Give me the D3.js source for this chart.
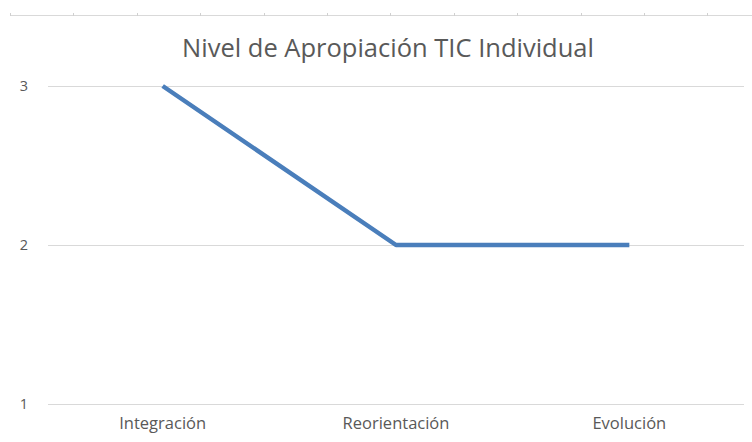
<!DOCTYPE html>
<html>
<head>
<meta charset="utf-8">
<script src="https://cdn.jsdelivr.net/npm/d3@7"></script>
<style>
  body { margin: 0; background: #fff; }
  svg { display: block; font-family: "Open Sans", "Noto Sans", sans-serif; }
</style>
</head>
<body>
<div id="chart"></div>
<script>
const categories = ['Integración', 'Reorientación', 'Evolución'];
const values = [3, 2, 2];
const yTicks = [1, 2, 3];
const title = 'Nivel de Apropiación TIC Individual';

const W = 752, H = 442;
const margin = { top: 86, right: 6, bottom: 38, left: 46 };
const width = W - margin.left - margin.right;
const height = H - margin.top - margin.bottom;

const svg = d3.select('#chart').append('svg')
  .attr('width', W).attr('height', H);

// Cropped frame edge at the top, with faint tick marks
const topEdge = svg.append('g');
topEdge.append('line')
  .attr('x1', 10).attr('x2', W).attr('y1', 15.5).attr('y2', 15.5)
  .attr('stroke', '#d9d9d9').attr('stroke-width', 1);
d3.range(10, W, 63.4).forEach(x => {
  topEdge.append('line')
    .attr('x1', Math.round(x) + 0.5).attr('x2', Math.round(x) + 0.5)
    .attr('y1', 13).attr('y2', 16)
    .attr('stroke', '#d0d0d0');
});

const g = svg.append('g')
  .attr('transform', `translate(${margin.left},${margin.top})`);

const x = d3.scaleBand().domain(categories).range([0, width]);
const y = d3.scaleLinear().domain([1, 3]).range([height, 0]);

// Gridlines
g.selectAll('.grid')
  .data(yTicks)
  .join('line')
  .attr('x1', 2).attr('x2', width - 2)
  .attr('y1', d => Math.round(y(d)) + 0.5)
  .attr('y2', d => Math.round(y(d)) + 0.5)
  .attr('stroke', '#d9d9d9').attr('stroke-width', 1);

// Y tick labels
g.selectAll('.ylab')
  .data(yTicks)
  .join('text')
  .attr('x', -22).attr('y', d => y(d))
  .attr('dy', '0.35em')
  .attr('text-anchor', 'middle')
  .attr('font-size', 14.5).attr('fill', '#595959')
  .text(d => d);

// X labels
g.selectAll('.xlab')
  .data(categories)
  .join('text')
  .attr('x', d => x(d) + x.bandwidth() / 2)
  .attr('y', height + 25)
  .attr('text-anchor', 'middle')
  .attr('font-size', 16.5).attr('fill', '#595959')
  .text(d => d);

// Line
const line = d3.line()
  .x((d, i) => x(categories[i]) + x.bandwidth() / 2)
  .y(d => y(d));

g.append('path')
  .datum(values)
  .attr('fill', 'none')
  .attr('stroke', '#4a7ebb')
  .attr('stroke-width', 4.5)
  .attr('stroke-linejoin', 'round')
  .attr('d', line);

// Title
svg.append('text')
  .attr('x', 388).attr('y', 57)
  .attr('text-anchor', 'middle')
  .attr('font-size', 25.5).attr('fill', '#595959')
  .text(title);
</script>
</body>
</html>
